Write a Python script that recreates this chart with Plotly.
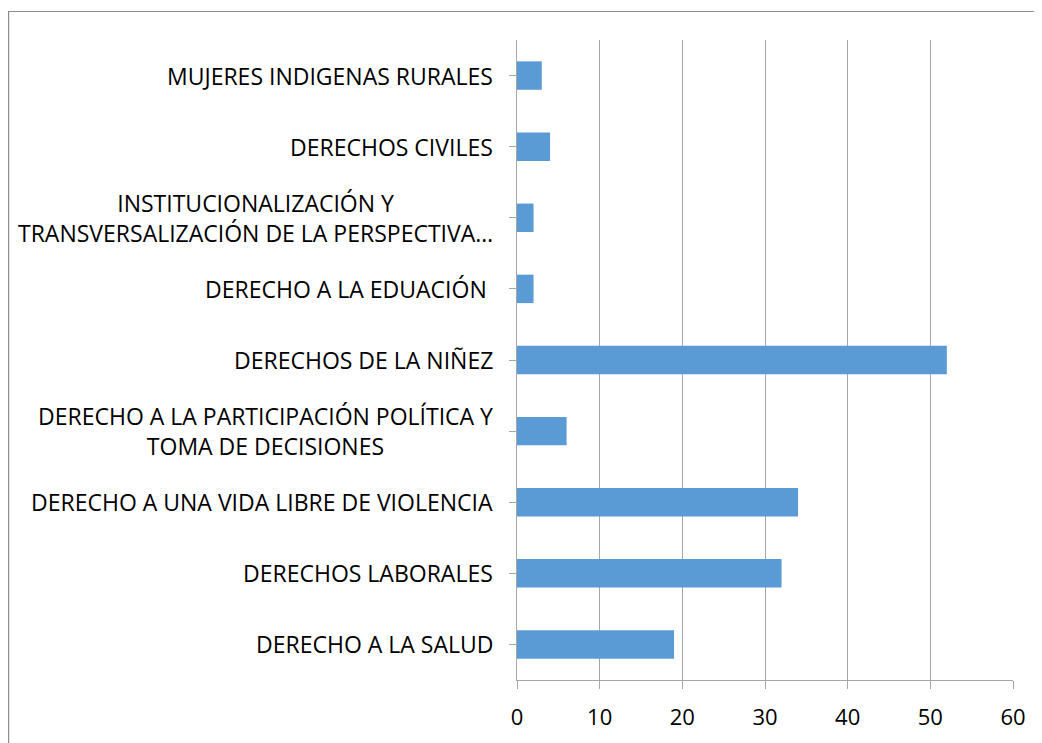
import plotly.graph_objects as go

categories = [
    "DERECHO A LA SALUD",
    "DERECHOS LABORALES",
    "DERECHO A UNA VIDA LIBRE DE VIOLENCIA",
    "DERECHO A LA PARTICIPACIÓN POLÍTICA Y<br>TOMA DE DECISIONES",
    "DERECHOS DE LA NIÑEZ",
    "DERECHO A LA EDUACIÓN ",
    "INSTITUCIONALIZACIÓN Y<br>TRANSVERSALIZACIÓN DE LA PERSPECTIVA…",
    "DERECHOS CIVILES",
    "MUJERES INDIGENAS RURALES",
]
values = [19, 32, 34, 6, 52, 2, 2, 4, 3]
x_ticks = [0, 10, 20, 30, 40, 50, 60]

FONT = "Open Sans"
GRAY = "#A6A6A6"

ypos = list(range(len(categories)))

fig = go.Figure()
fig.add_trace(go.Bar(
    x=values, y=ypos, orientation="h",
    marker=dict(color="#5B9BD5", line=dict(width=0)),
    width=0.4,
))

for i, c in enumerate(categories):
    fig.add_annotation(
        x=0, xref="paper", y=i, yref="y",
        text=c, showarrow=False, xanchor="right", yanchor="middle",
        align="center", xshift=-22,
        font=dict(family=FONT, size=23, color="#000000"),
    )

fig.add_shape(
    type="rect", xref="paper", yref="paper",
    x0=-1.025, x1=1.1, y0=-0.2, y1=1.0445,
    line=dict(color="#8C8C8C", width=1.2), layer="below",
)

fig.update_layout(
    width=1034, height=735,
    margin=dict(l=509, r=29, t=32, b=63),
    paper_bgcolor="white", plot_bgcolor="white",
    showlegend=False,
    bargap=0.6,
    xaxis=dict(
        range=[0, 60], tickvals=x_ticks, ticktext=[str(v) for v in x_ticks],
        showgrid=True, gridcolor=GRAY, gridwidth=1,
        zeroline=False, showline=True, linecolor=GRAY, linewidth=1,
        ticks="outside", ticklen=8, tickcolor=GRAY,
        tickfont=dict(family=FONT, size=22, color="#000000"),
        ticklabelstandoff=10,
    ),
    yaxis=dict(
        range=[-0.5, len(categories) - 0.5],
        tickvals=ypos, showticklabels=False,
        tickson="boundaries", ticks="outside", ticklen=7, tickcolor=GRAY,
        showgrid=False, zeroline=False, showline=True, linecolor=GRAY, linewidth=1,
    ),
)

fig.write_html("out.html")
